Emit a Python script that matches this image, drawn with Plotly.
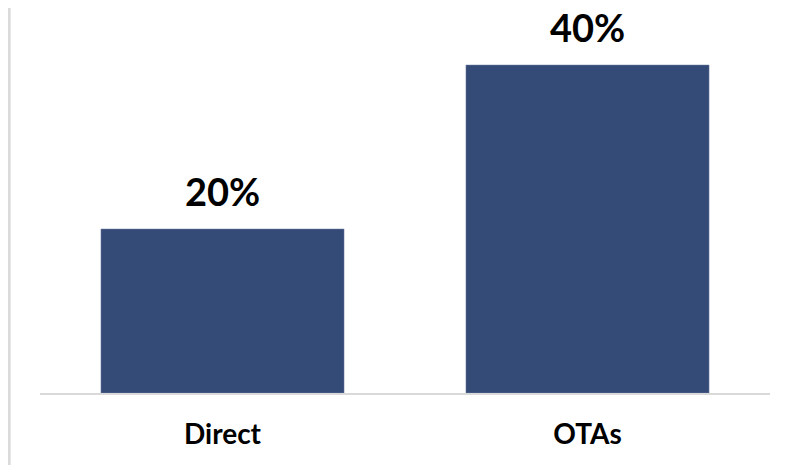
import plotly.graph_objects as go

categories = ["Direct", "OTAs"]
values = [20, 40]
value_labels = ["20%", "40%"]

bar_color = "#344a77"
font_family = "Lato, 'Open Sans', sans-serif"

fig = go.Figure()
fig.add_trace(go.Bar(
    x=categories, y=values,
    marker=dict(color=bar_color, line=dict(color="#6f7fa0", width=0.5)),
    hoverinfo="skip",
))

for c, v, t in zip(categories, values, value_labels):
    fig.add_annotation(x=c, y=v, text=f"<b>{t}</b>", showarrow=False,
                       yanchor="bottom", yshift=14, borderpad=0,
                       font=dict(family=font_family, size=38, color="#000000"))

# left vertical light line
fig.add_shape(type="line", xref="paper", yref="paper",
              x0=-0.042, x1=-0.042, y0=-0.193, y1=1.06,
              line=dict(color="#d9d9d9", width=2.5))

fig.update_layout(
    width=787, height=466,
    margin=dict(l=32, r=25, t=12, b=81),
    paper_bgcolor="white", plot_bgcolor="white",
    bargap=0.334,
    showlegend=False,
    font=dict(family=font_family),
    xaxis=dict(showline=True, linecolor="#d9d9d9", linewidth=2,
               ticks="", showgrid=False, zeroline=False,
               tickfont=dict(family=font_family, size=28, color="#000000"),
               ticklabelstandoff=15,
               tickvals=categories, ticktext=[f"<b>{c}</b>" for c in categories]),
    yaxis=dict(visible=False, range=[0, 45.49], showgrid=False, zeroline=False),
)

fig.write_html("out.html")
